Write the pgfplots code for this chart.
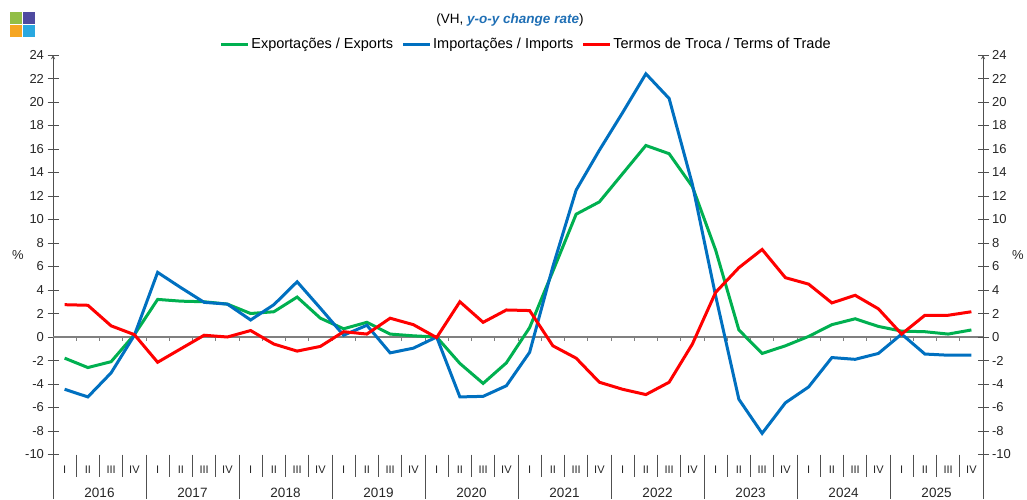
\documentclass[border=0pt]{standalone}
\usepackage{pgfplots}
\pgfplotsset{compat=1.18}
\usepackage{fontspec}
\setmainfont{Liberation Sans}

\definecolor{expgreen}{RGB}{0,176,80}
\definecolor{impblue}{RGB}{0,112,192}
\definecolor{totred}{RGB}{255,0,0}
\definecolor{titleblue}{RGB}{31,111,181}
\definecolor{axisgray}{RGB}{80,80,80}
\definecolor{zerogray}{RGB}{128,128,128}
\definecolor{logogreen}{RGB}{146,190,70}
\definecolor{logoindigo}{RGB}{78,74,160}
\definecolor{logoorange}{RGB}{245,166,35}
\definecolor{logoblue}{RGB}{41,168,224}

% quarters 2016Q1..2025Q4 at x = 0.5, 1.5, ..., 39.5
\pgfplotstableread{
q    exp    imp    tot
0.5  -1.8   -4.45  2.75
1.5  -2.6   -5.1   2.7
2.5  -2.1   -3.05  0.95
3.5  0.2    0.15   0.2
4.5  3.2    5.5    -2.15
5.5  3.05   4.2    -1.0
6.5  3.0    2.95   0.15
7.5  2.8    2.8    0.0
8.5  2.0    1.45   0.55
9.5  2.15   2.75   -0.6
10.5 3.4    4.7    -1.2
11.5 1.6    2.45   -0.8
12.5 0.7    0.15   0.45
13.5 1.25   1.0    0.25
14.5 0.25   -1.35  1.6
15.5 0.1    -0.95  1.05
16.5 0.0    0.0    -0.05
17.5 -2.25  -5.1   3.0
18.5 -3.95  -5.05  1.25
19.5 -2.2   -4.15  2.3
20.5 0.8    -1.3   2.25
21.5 5.6    6.0    -0.75
22.5 10.45  12.5   -1.8
23.5 11.5   15.9   -3.85
24.5 13.9   19.1   -4.45
25.5 16.3   22.4   -4.9
26.5 15.6   20.3   -3.85
27.5 12.8   13.0   -0.6
28.5 7.4    3.5    3.8
29.5 0.6    -5.3   5.9
30.5 -1.4   -8.2   7.45
31.5 -0.75  -5.6   5.05
32.5 0.05   -4.25  4.5
33.5 1.05   -1.75  2.9
34.5 1.55   -1.9   3.55
35.5 0.9    -1.4   2.4
36.5 0.5    0.25   0.25
37.5 0.45   -1.45  1.85
38.5 0.25   -1.55  1.85
39.5 0.6    -1.55  2.15
}\trade

\pgfplotsset{
  frame/.style={
    at={(53pt,44.5pt)}, anchor=south west,
    scale only axis, width=930pt, height=399.5pt,
    xmin=0, xmax=40, ymin=-10, ymax=24,
    axis x line=none,
    y axis line style={-, draw=axisgray, line width=0.9pt},
    ytick={-10,-8,...,24},
    tick align=center, major tick length=11pt,
    tick style={axisgray, line width=0.9pt},
    yticklabel style={font=\fontsize{13}{14}\selectfont, text=black!85},
    /pgf/number format/assume math mode=true,
    clip=false,
  }
}

\begin{document}
\begin{tikzpicture}
\useasboundingbox (0pt,0pt) rectangle (1027pt,499pt);

\begin{axis}[frame, axis y line=left,
  legend columns=3,
  legend style={at={(axis description cs:0.5086,1)}, anchor=south, yshift=1pt,
    draw=none, fill=none, font=\fontsize{14.5}{16}\selectfont,
    nodes={inner sep=1.5pt},
    /tikz/every even column/.append style={column sep=7pt}},
  legend image code/.code={\draw[#1] (0pt,0pt) -- (27pt,0pt);},
]
  \draw[zerogray, line width=1.2pt] (axis cs:0,0) -- (axis cs:40,0);
  \pgfplotsinvokeforeach{1,...,39}{
    \draw[zerogray, line width=0.9pt] (axis cs:#1,0) -- ++(0pt,-4pt);
  }
  \addplot[expgreen, line width=3pt, mark=none] table[x=q, y=exp] {\trade};
  \addlegendentry{Exportações / Exports}
  \addplot[impblue, line width=3pt, mark=none] table[x=q, y=imp] {\trade};
  \addlegendentry{Importações / Imports}
  \addplot[totred, line width=3pt, mark=none] table[x=q, y=tot] {\trade};
  \addlegendentry{Termos de Troca / Terms of Trade}
\end{axis}

\begin{axis}[frame, axis y line=right, yticklabel pos=right]
\end{axis}

% category axis below the plot
\foreach \k in {0,...,40} {
  \pgfmathsetmacro{\xx}{53+23.25*\k}
  \pgfmathtruncatemacro{\m}{mod(\k,4)}
  \ifnum\m=0
    \draw[axisgray, line width=0.9pt] (\xx pt,44.5pt) -- (\xx pt,0pt);
  \else
    \draw[axisgray, line width=0.9pt] (\xx pt,44.5pt) -- (\xx pt,22pt);
  \fi
}
\foreach \j [count=\n from 0] in {2016,...,2025} {
  \pgfmathsetmacro{\xa}{53+23.25*(4*\n)}
  \node[font=\fontsize{11}{12}\selectfont, text=black!85] at (\xa pt+11.6pt,29pt) {I};
  \node[font=\fontsize{11}{12}\selectfont, text=black!85] at (\xa pt+34.9pt,29pt) {II};
  \node[font=\fontsize{11}{12}\selectfont, text=black!85] at (\xa pt+58.1pt,29pt) {III};
  \node[font=\fontsize{11}{12}\selectfont, text=black!85] at (\xa pt+81.4pt,29pt) {IV};
  \node[font=\fontsize{13.5}{14}\selectfont, text=black!85] at (\xa pt+46.5pt,6.5pt) {\j};
}

% unit labels
\node[font=\fontsize{13}{14}\selectfont, text=black!85] at (18pt,244pt) {\%};
\node[font=\fontsize{13}{14}\selectfont, text=black!85] at (1018pt,244pt) {\%};

% title
\node[font=\fontsize{13.5}{15}\selectfont] at (510pt,479pt)
  {(VH, \textcolor{titleblue}{\bfseries\itshape y-o-y change rate})};

% logo
\fill[logogreen]  (10pt,475pt) rectangle (22pt,487pt);
\fill[logoindigo] (23pt,475pt) rectangle (35pt,487pt);
\fill[logoorange] (10pt,462pt) rectangle (22pt,474pt);
\fill[logoblue]   (23pt,462pt) rectangle (35pt,474pt);
\end{tikzpicture}
\end{document}
